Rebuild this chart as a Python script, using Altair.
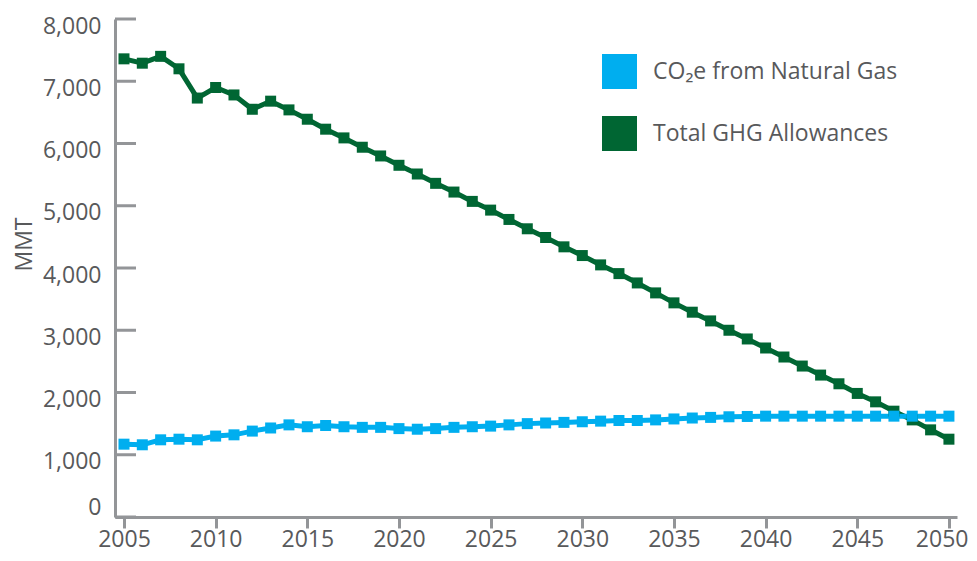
import altair as alt
import pandas as pd

years = list(range(2005, 2051))
total_ghg = [7360, 7290, 7400, 7200, 6730, 6900, 6780, 6550, 6680, 6540,
             6390, 6230, 6090, 5940, 5800, 5650, 5510, 5360, 5220, 5070,
             4930, 4780, 4630, 4490, 4340, 4200, 4050, 3910, 3760, 3600,
             3440, 3290, 3150, 3000, 2860, 2715, 2570, 2425, 2280, 2140,
             1985, 1850, 1700, 1560, 1400, 1250]
co2e_gas = [1170, 1160, 1240, 1250, 1240, 1300, 1320, 1380, 1430, 1480,
            1450, 1470, 1450, 1440, 1440, 1420, 1410, 1420, 1440, 1450,
            1460, 1480, 1500, 1510, 1520, 1530, 1540, 1550, 1550, 1560,
            1575, 1590, 1600, 1610, 1615, 1620, 1620, 1620, 1620, 1620,
            1620, 1620, 1620, 1620, 1620, 1620]
series_names = ["CO₂e from Natural Gas", "Total GHG Allowances"]
series_colors = ["#00aeef", "#006633"]
y_ticks = [0, 1000, 2000, 3000, 4000, 5000, 6000, 7000, 8000]
x_ticks = [2005, 2010, 2015, 2020, 2025, 2030, 2035, 2040, 2045, 2050]

df = pd.concat([
    pd.DataFrame({"year": years, "value": total_ghg, "series": series_names[1], "order": 0}),
    pd.DataFrame({"year": years, "value": co2e_gas, "series": series_names[0], "order": 1}),
])
ticks_df = pd.DataFrame({"value": y_ticks})

FONT = "Open Sans"
TXT = "#58595b"
AX = "#939598"

xscale = alt.Scale(domain=[2004.51, 2050.44], nice=False, zero=False)
yscale = alt.Scale(domain=[0, 8000], nice=False)

x_enc = alt.X("year:Q", scale=xscale,
              axis=alt.Axis(values=x_ticks, labelExpr="format(datum.value, 'd')",
                            title=None, grid=False,
                            domainColor=AX, domainWidth=3, tickColor=AX, tickWidth=3,
                            tickSize=11, labelFont=FONT, labelFontSize=23,
                            labelColor=TXT, labelBaseline="alphabetic", labelPadding=18,
                            labelFlush=8.5, labelFlushOffset=19))
y_axis = alt.Axis(values=y_ticks, labelExpr="format(datum.value, ',')",
                  title="MMT", grid=False,
                  domainColor=AX, domainWidth=3, ticks=False,
                  labelFont=FONT, labelFontSize=23, labelColor=TXT,
                  labelBaseline="alphabetic",
                  labelOffset={"condition": {"test": "datum.value == 0", "value": -3}, "value": 14},
                  labelPadding=14, titleFont=FONT, titleFontSize=23,
                  titleFontWeight="normal", titleColor=TXT,
                  titleX=-84, titleY=225, titleBaseline="alphabetic",
                  labelFlush=False)
y_enc = alt.Y("value:Q", scale=yscale, axis=y_axis)
color_scale = alt.Scale(domain=series_names, range=series_colors)

lines = alt.Chart(df).mark_line(strokeWidth=5).encode(
    x=x_enc, y=y_enc,
    stroke=alt.condition(alt.datum.series == series_names[1],
                         alt.value(series_colors[1]), alt.value(series_colors[0])),
    order="year:Q",
    detail="series:N",
)
points = alt.Chart(df).mark_point(shape="square", filled=True, size=121, opacity=1).encode(
    x=x_enc, y=y_enc,
    color=alt.Color("series:N", scale=color_scale,
                    legend=alt.Legend(title=None, orient="none", legendX=487, legendY=35,
                                      symbolType="square", symbolSize=1225,
                                      symbolStrokeWidth=0, symbolOpacity=1,
                                      labelFont=FONT, labelFontSize=23, labelColor=TXT,
                                      labelOffset=16, rowPadding=27, padding=0,
                                      labelLimit=400)),
    order="order:Q",
)
yticks = alt.Chart(ticks_df).mark_rule(color=AX, strokeWidth=3).encode(
    y=y_enc,
    x=alt.value(0), x2=alt.value(21),
)

chart = alt.layer(yticks, lines, points).properties(
    width=842, height=498,
    autosize=alt.AutoSizeParams(type="none"),
    padding={"left": 107, "top": 11, "right": 12, "bottom": 36},
    background="white",
).configure_view(stroke=None)

chart.save("out.html", embed_options={"renderer": "svg", "actions": False})
